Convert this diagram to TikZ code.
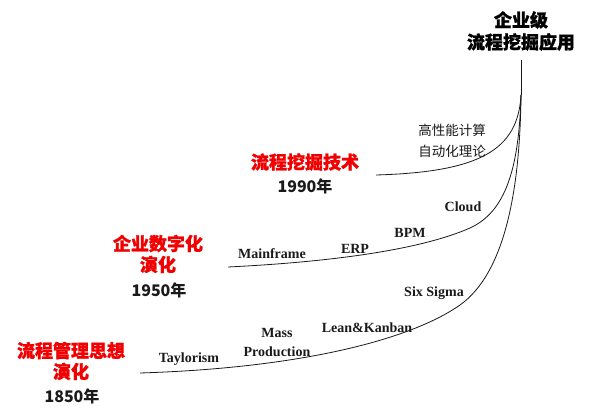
\documentclass[tikz,border=0pt]{standalone}
\usepackage{fontspec}
\setmainfont{Liberation Serif}
\newfontfamily\cjk{Noto Sans CJK SC}
\newfontfamily\cjkhv[BoldFeatures={FakeBold=1.2}]{Noto Sans CJK SC}
\definecolor{titlered}{HTML}{F00000}
\definecolor{ink}{HTML}{1A1A1A}
\begin{document}
\begin{tikzpicture}[x=1pt,y=-1pt,
  era/.style={font=\cjkhv\bfseries\fontsize{18}{21}\selectfont, text=titlered, align=center, inner sep=0pt},
  year/.style={font=\cjk\bfseries\fontsize{16}{18}\selectfont, text=ink, inner sep=0pt},
  goal/.style={font=\cjkhv\bfseries\fontsize{18}{22}\selectfont, text=black, align=center, inner sep=0pt},
  theory/.style={font=\cjk\fontsize{13.5}{21}\selectfont, text=ink, align=center, inner sep=0pt},
  tech/.style={font=\bfseries\fontsize{14}{19}\selectfont, text=ink, align=center, inner sep=0pt},
  curve/.style={draw=ink, line width=0.8pt}]
\useasboundingbox (0,0) rectangle (600,414);

% top goal
\node[goal] (goal) at (521,31) {企业级\\流程挖掘应用};

% curve anchor points
\coordinate (top) at (521,60);
\coordinate (merge) at (521,95);
\coordinate (s1) at (376,175);
\coordinate (s2) at (228,267);
\coordinate (m2) at (470,228);
\coordinate (s3) at (140,373);
\coordinate (m3) at (460,305);

\draw[curve] (top) -- (merge);
\draw[curve] (s1) .. controls (480,172) and (518,150) .. (merge);
\draw[curve] (s2) .. controls (330,262) and (420,250) .. (m2)
                  .. controls (505,212) and (519,170) .. (merge);
\draw[curve] (s3) .. controls (300,368) and (410,340) .. (m3)
                  .. controls (505,273) and (520,190) .. (merge);

% era 1990
\node[theory] (theo) at (452,141) {高性能计算\\自动化理论};
\node[era] (e1990) at (305,162) {流程挖掘技术};
\node[year] (y1990) at (305,186) {1990年};

% era 1950
\node[era] (e1950) at (158,254) {企业数字化\\演化};
\node[year] (y1950) at (159,290) {1950年};
\node[tech] (mainframe) at (272,254) {Mainframe};
\node[tech] (erp) at (355,249) {ERP};
\node[tech] (bpm) at (410,233) {BPM};
\node[tech] (cloud) at (463,207) {Cloud};

% era 1850
\node[era] (e1850) at (71,361) {流程管理思想\\演化};
\node[year] (y1850) at (72,396) {1850年};
\node[tech] (taylor) at (189,359) {Taylorism};
\node[tech] (mass) at (277,343) {Mass\\Production};
\node[tech] (lean) at (367,328) {Lean\&Kanban};
\node[tech] (six) at (434,293) {Six Sigma};
\end{tikzpicture}
\end{document}
